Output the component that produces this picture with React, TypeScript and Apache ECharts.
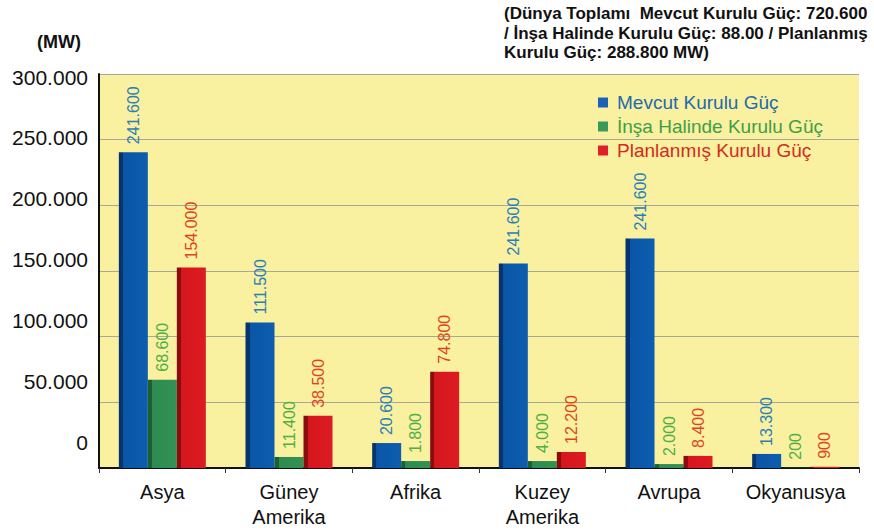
import React, { useEffect, useRef } from "react";
import * as echarts from "echarts";

const categories = ["Asya", "Güney\nAmerika", "Afrika", "Kuzey\nAmerika", "Avrupa", "Okyanusya"];
const seriesNames = ["Mevcut Kurulu Güç", "İnşa Halinde Kurulu Güç", "Planlanmış Kurulu Güç"];
// bar heights as drawn in the picture (MW)
const mevcutBars = [240500, 110700, 19000, 155700, 174800, 10700];
const insaBars = [67200, 8400, 5300, 5300, 3000, 200];
const planBars = [152700, 39700, 73300, 12200, 9200, 900];
// value labels as printed in the picture (MW)
const mevcutLabels = [241600, 111500, 20600, 241600, 241600, 13300];
const insaLabels = [68600, 11400, 1800, 4000, 2000, 200];
const planLabels = [154000, 38500, 74800, 12200, 8400, 900];
const yTicks = [0, 50000, 100000, 150000, 200000, 250000, 300000];

const fmt = (n: number) =>
  n >= 1000 ? Math.floor(n / 1000) + "." + String(n % 1000).padStart(3, "0") : String(n);

const FONT = "'Liberation Sans', Arial, sans-serif";

export default function App() {
  const ref = useRef<HTMLDivElement>(null);
  useEffect(() => {
    document.body.style.margin = "0";
    if (!ref.current) return;
    const chart = echarts.init(ref.current, undefined, { renderer: "svg" });
    const grad = (dark: string, base: string, light: string) =>
      new echarts.graphic.LinearGradient(0, 0, 1, 0, [
        { offset: 0, color: dark },
        { offset: 0.14, color: dark },
        { offset: 0.15, color: base },
        { offset: 1, color: light },
      ]);
    const mk = (
      name: string,
      data: number[],
      labels: number[],
      color: any,
      labelColor: string
    ) => ({
      name,
      type: "bar",
      data,
      barWidth: 29,
      barGap: "0%",
      itemStyle: { color },
      label: {
        show: true,
        position: "top",
        rotate: 90,
        align: "left",
        verticalAlign: "middle",
        distance: 8,
        color: labelColor,
        fontSize: 16,
        fontFamily: FONT,
        formatter: (p: any) => fmt(labels[p.dataIndex]),
      },
    });
    chart.setOption({
      animation: false,
      backgroundColor: "#ffffff",
      textStyle: { fontFamily: FONT },
      grid: {
        left: 99,
        right: 15,
        top: 74,
        bottom: 62,
        show: true,
        backgroundColor: "#f9f0a0",
        borderWidth: 0,
      },
      legend: {
        orient: "vertical",
        left: 593,
        top: 88,
        itemWidth: 10,
        itemHeight: 10,
        itemGap: 5,
        icon: "rect",
        textStyle: { fontSize: 19, fontFamily: FONT, padding: [0, 0, 0, 4] },
        data: [
          { name: seriesNames[0], itemStyle: { color: "#1863b8" }, textStyle: { color: "#1f6aae" } },
          { name: seriesNames[1], itemStyle: { color: "#3a9a5a" }, textStyle: { color: "#3f9e48" } },
          { name: seriesNames[2], itemStyle: { color: "#e01f28" }, textStyle: { color: "#d42a1f" } },
        ],
      },
      xAxis: {
        type: "category",
        data: categories,
        axisLine: { lineStyle: { color: "#111", width: 2 } },
        axisTick: { show: true, length: 5, lineStyle: { color: "#333" } },
        axisLabel: {
          interval: 0,
          color: "#111",
          fontSize: 20,
          fontFamily: FONT,
          lineHeight: 25,
          margin: 11,
        },
      },
      yAxis: [
        {
          type: "value",
          min: 0,
          max: 300000,
          interval: 50000,
          axisLine: { show: true, lineStyle: { color: "#111", width: 2 } },
          axisTick: { show: false },
          axisLabel: { show: false },
          splitLine: { lineStyle: { color: "#a8a79a", width: 1 } },
        },
        {
          type: "value",
          position: "left",
          min: -20548,
          max: 302466,
          axisLine: { show: false },
          axisTick: { show: false },
          splitLine: { show: false },
          axisLabel: {
            customValues: yTicks,
            formatter: (v: number) => fmt(v),
            color: "#111",
            fontSize: 21,
            fontFamily: FONT,
            margin: 11,
          },
        },
      ],
      graphic: [
        {
          type: "text",
          left: 37,
          top: 33,
          style: { text: "(MW)", font: `bold 18px ${FONT}`, fill: "#111" },
        },
        {
          type: "text",
          left: 504,
          top: 4,
          style: {
            text:
              "(Dünya Toplamı  Mevcut Kurulu Güç: 720.600\n/ İnşa Halinde Kurulu Güç: 88.00 / Planlanmış\nKurulu Güç: 288.800 MW)",
            font: `bold 17px ${FONT}`,
            lineHeight: 19.5,
            fill: "#111",
          },
        },
      ],
      series: [
        mk(seriesNames[0], mevcutBars, mevcutLabels, grad("#06346c", "#0a55a6", "#0d5db0"), "#2a7fb8"),
        mk(seriesNames[1], insaBars, insaLabels, grad("#1c5f36", "#2e8a50", "#339256"), "#4fae48"),
        mk(seriesNames[2], planBars, planLabels, grad("#8a0b10", "#d6161d", "#dc1c22"), "#e0441f"),
      ],
    });
    return () => chart.dispose();
  }, []);
  return <div ref={ref} style={{ width: 874, height: 530 }} />;
}
